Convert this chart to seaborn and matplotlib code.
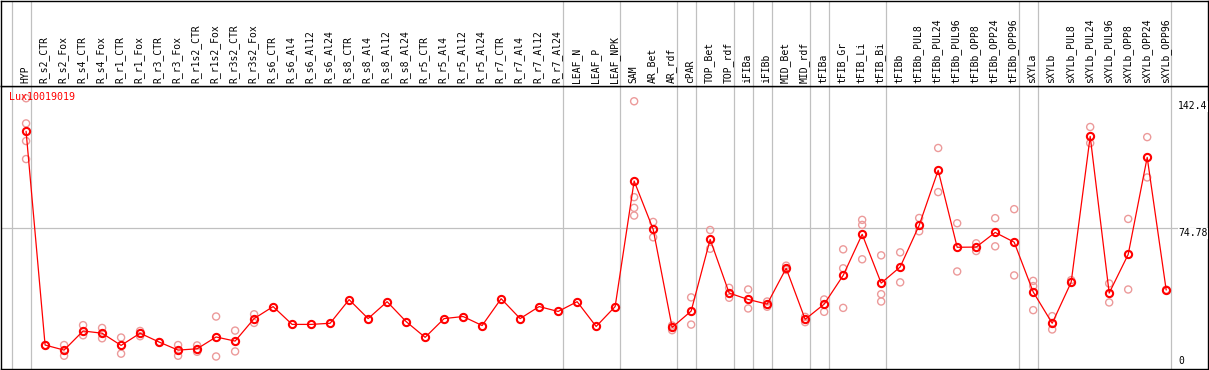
import numpy as np
import pandas as pd
import matplotlib
matplotlib.use("Agg")
import matplotlib.pyplot as plt
import seaborn as sns

# sample names, left to right
samples = ["HYP",
           "R_s2_CTR", "R_s2_Fox", "R_s4_CTR", "R_s4_Fox", "R_r1_CTR", "R_r1_Fox",
           "R_r3_CTR", "R_r3_Fox", "R_r1s2_CTR", "R_r1s2_Fox", "R_r3s2_CTR", "R_r3s2_Fox",
           "R_s6_CTR", "R_s6_Al4", "R_s6_Al12", "R_s6_Al24",
           "R_s8_CTR", "R_s8_Al4", "R_s8_Al12", "R_s8_Al24",
           "R_r5_CTR", "R_r5_Al4", "R_r5_Al12", "R_r5_Al24",
           "R_r7_CTR", "R_r7_Al4", "R_r7_Al12", "R_r7_Al24",
           "LEAF_N", "LEAF_P", "LEAF_NPK",
           "SAM", "AR_Bet", "AR_rdf", "cPAR", "TOP_Bet", "TOP_rdf",
           "iFIBa", "iFIBb", "MID_Bet", "MID_rdf",
           "tFIBa", "tFIB_Gr", "tFIB_Li", "tFIB_Bi",
           "tFIBb", "tFIBb_PUL8", "tFIBb_PUL24", "tFIBb_PUL96",
           "tFIBb_OPP8", "tFIBb_OPP24", "tFIBb_OPP96",
           "sXYLa", "sXYLb", "sXYLb_PUL8", "sXYLb_PUL24", "sXYLb_PUL96",
           "sXYLb_OPP8", "sXYLb_OPP24", "sXYLb_OPP96"]

# mean expression per sample
means = [126.4,
         12.5, 9.8, 20.0, 18.8, 12.3, 18.8, 14.1, 9.8, 10.5, 16.8, 14.6, 26.6,
         33.0, 23.5, 23.5, 24.1,
         36.7, 26.6, 35.6, 25.0,
         16.6, 26.6, 27.7, 22.9,
         37.2, 26.6, 33.0, 30.4,
         35.6, 22.4, 33.0,
         99.9, 74.2, 21.9, 30.6, 68.8, 40.2,
         36.8, 34.3, 53.4, 26.2,
         34.3, 49.6, 71.5, 45.5,
         54.1, 76.3, 105.6, 64.6, 64.7, 72.5, 67.3,
         40.8, 24.1, 46.0, 123.7, 40.2, 60.8, 112.5, 41.8]

# individual replicates (hidden ones sit under the mean marker)
replicates = [[144.0, 130.6, 121.2, 111.6],
              [12.5], [12.5, 6.8], [23.1, 17.7], [21.6, 16.1], [16.5, 7.9], [20.0, 17.2],
              [14.1], [12.5, 6.8], [12.3, 8.9], [27.7, 6.4], [20.2, 9.1], [28.9, 24.3],
              [], [], [], [],
              [], [], [], [],
              [], [], [], [],
              [], [], [], [],
              [], [], [],
              [142.4, 91.3, 85.6, 81.5], [78.1, 69.9], [22.9, 20.4], [37.9, 23.4],
              [73.8, 63.8], [43.0, 37.7],
              [42.1, 32.0], [35.7, 32.9], [54.8, 52.5], [27.5, 24.7],
              [36.8, 30.2], [63.5, 53.4, 32.3], [79.2, 76.5, 58.2], [60.3, 39.6, 35.7],
              [61.9, 45.9], [80.2, 73.1], [117.5, 94.0], [77.4, 51.7],
              [66.7, 62.6], [80.1, 65.1], [84.9, 49.6],
              [46.7, 43.9, 31.1], [27.9, 20.8], [47.1], [128.7, 120.1], [45.3, 35.2],
              [79.7, 42.1], [123.3, 101.8], [42.0]]

# last sample index of each tissue group (separators drawn after them)
group_ends = [-1, 0, 28, 31, 34, 35, 37, 38, 39, 41, 42, 45, 52, 53, 60]
y_marks = [142.4, 74.78, 0]
probe = "Lux10019019"

df_mean = pd.DataFrame({"pos": np.arange(len(samples)), "sample": samples, "value": means})
df_rep = pd.DataFrame([(i, v) for i, reps in enumerate(replicates) for v in reps],
                      columns=["pos", "value"])

sns.set_style("white")
plt.rcParams["font.family"] = ["DejaVu Sans Mono"]
plt.rcParams["font.size"] = 7.0
plt.rcParams["text.color"] = "black"

W, H = 1209, 370
fig = plt.figure(figsize=(W / 100, H / 100), dpi=100)
ax = fig.add_axes([1 / W, 1.5 / H, 1207 / W, 283 / H])
ax_lab = fig.add_axes([1 / W, 284.5 / H, 1207 / W, 85 / H], sharex=ax)

grey = "#c0c0c0"
pink = "#ec9a9a"

for k in group_ends:
    ax.axvline(k + 0.25, color=grey, lw=0.9, zorder=0)
    ax_lab.axvline(k + 0.25, color=grey, lw=0.9, zorder=0)
ax.axhline(74.78, color=grey, lw=0.9, zorder=0)

sns.scatterplot(data=df_rep, x="pos", y="value", ax=ax, marker="o", s=26,
                color=pink, facecolors="none", edgecolor=pink, linewidth=1.0, zorder=2)
sns.lineplot(data=df_mean, x="pos", y="value", ax=ax, color="red", lw=0.9,
             marker="o", markersize=5.2, markerfacecolor="none",
             markeredgecolor="red", markeredgewidth=1.5, zorder=3)

ax.set_xlim(-1.32, 62.2)
ax.set_ylim(0, 150.8)
ax.set_xticks([])
ax.set_yticks([])
ax.set_xlabel("")
ax.set_ylabel("")
ax_lab.set_yticks([])

for a in (ax, ax_lab):
    for sp in a.spines.values():
        sp.set_color("black")
        sp.set_linewidth(1.0)
        sp.set_visible(True)

# sample labels, rotated, sitting on the separator line
for i, name in enumerate(samples):
    ax_lab.text(i - 0.05, 0.03, name, rotation=90, ha="center", va="bottom",
                color="black", transform=ax_lab.get_xaxis_transform())

# value marks on the right
xr = (1178 - 1) / 1207
for v in y_marks:
    if v == 0:
        ax.text(xr, 1.3, "0", ha="left", va="bottom", color="black",
                transform=ax.get_yaxis_transform())
    else:
        ax.text(xr, v, str(v), ha="left", va="top", color="black",
                transform=ax.get_yaxis_transform(),
                bbox=dict(facecolor="white", edgecolor="none", pad=0.3))

ax.text(8 / 1207, 1 - 6.5 / 283, probe, color="red", ha="left", va="top",
        transform=ax.transAxes, fontsize=7.2)

fig.savefig("out.png", dpi=100)
